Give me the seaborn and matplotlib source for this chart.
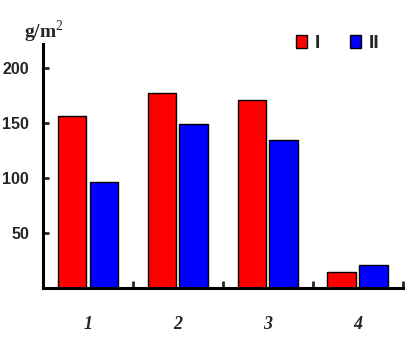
import pandas as pd
import matplotlib
matplotlib.use("Agg")
import matplotlib.pyplot as plt
import seaborn as sns

# values
sites = ["1", "2", "3", "4"]
values_I = [157, 177, 171, 14.5]
values_II = [97, 149, 135, 21]
groups = ["I", "II"]
y_ticks = [50, 100, 150, 200]

df = pd.DataFrame({
    "site": sites * 2,
    "group": [groups[0]] * len(sites) + [groups[1]] * len(sites),
    "value": values_I + values_II,
})

sns.set_style("white")
plt.rcParams["font.family"] = ["Liberation Sans", "DejaVu Sans"]
plt.rcParams["mathtext.fontset"] = "custom"
plt.rcParams["mathtext.rm"] = "Liberation Serif"

fig = plt.figure(figsize=(4.17, 3.43), dpi=100)
ax = fig.add_axes([0.103, 0.159, 0.863, 0.713])

sns.barplot(data=df, x="site", y="value", hue="group",
            palette=["#ff0000", "#0000ff"], width=0.71, gap=0.1,
            edgecolor="black", linewidth=1.0, saturation=1, ax=ax)

ax.set_xlim(-0.5, 3.5)
ax.set_ylim(0, 222)
ax.set_xlabel("")
ax.set_ylabel("")

for side in ["top", "right"]:
    ax.spines[side].set_visible(False)
for side in ["left", "bottom"]:
    ax.spines[side].set_linewidth(2.2)
    ax.spines[side].set_color("black")

ax.set_yticks(y_ticks)
ax.set_yticklabels([str(t) for t in y_ticks], fontsize=11.5, fontweight="bold")
ax.tick_params(axis="y", direction="in", length=4, width=2, pad=10, left=True)

ax.set_xticks(range(len(sites)))
ax.set_xticklabels(sites, fontsize=13, fontweight="bold", fontstyle="italic",
                   family="Liberation Serif")
ax.tick_params(axis="x", which="major", length=0, pad=20)
ax.set_xticks([0.5, 1.5, 2.5, 3.5], minor=True)
ax.tick_params(axis="x", which="minor", direction="in", length=5, width=2, bottom=True)

fig.text(0.058, 0.89, "g/m$^\\mathrm{2}$", fontsize=14, fontweight="bold",
         family="Liberation Serif")

ax.legend(loc="center left", bbox_to_anchor=(0.709, 0.872), bbox_transform=fig.transFigure,
          ncol=2, frameon=False, borderpad=0, borderaxespad=0,
          handlelength=0.6, handleheight=0.6, handletextpad=0.4, columnspacing=1.5,
          prop={"size": 14, "weight": "bold"})

fig.savefig("out.png", dpi=100)
